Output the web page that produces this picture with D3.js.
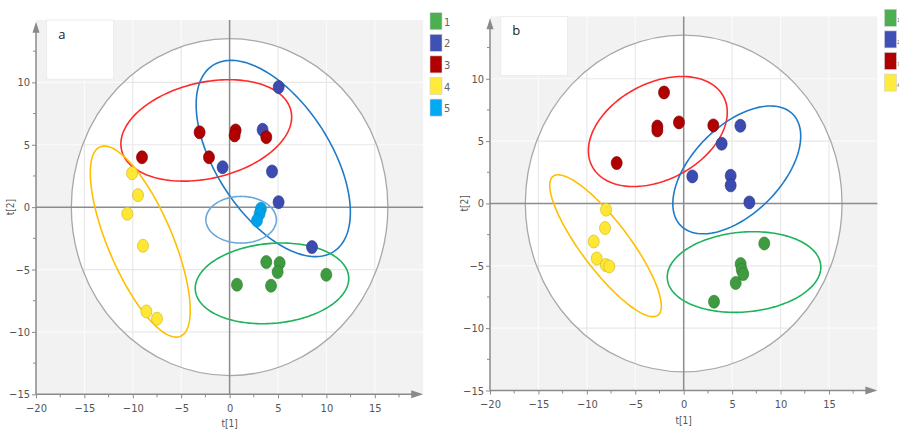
<!DOCTYPE html>
<html>
<head>
<meta charset="utf-8">
<script src="https://cdn.jsdelivr.net/npm/d3@7/dist/d3.min.js"></script>
<style>
  html, body { margin: 0; padding: 0; background: #fff; }
  svg { display: block; }
  text { font-family: "Liberation Sans Narrow", "DejaVu Sans Condensed", "Liberation Sans", Arial, sans-serif; fill: #555; }
</style>
</head>
<body>
<svg id="chart" width="899" height="432"></svg>
<script>
// ---------- DATA ----------
const groupNames = ["1", "2", "3", "4", "5"];
const xTicks = [-20, -15, -10, -5, 0, 5, 10, 15];
const yTicks = [-15, -10, -5, 0, 5, 10];
const hotellingT2 = [16.35, 13.5]; // semi-axes of the T2 ellipse (t[1], t[2])

// Panel a scores [t1, t2]
const a_group1 = [[0.76, -6.22], [3.79, -4.40], [5.17, -4.48], [4.96, -5.20], [4.28, -6.30], [9.99, -5.42]];
const a_group2 = [[5.07, 9.62], [3.41, 6.20], [-0.72, 3.20], [4.38, 2.86], [5.06, 0.40], [8.51, -3.20]];
const a_group3 = [[-3.10, 6.00], [0.62, 6.15], [0.52, 5.75], [3.79, 5.61], [-9.05, 4.00], [-2.13, 4.00]];
const a_group4 = [[-10.08, 2.72], [-9.46, 0.96], [-10.57, -0.53], [-8.95, -3.10], [-8.60, -8.36], [-7.50, -8.94]];
const a_group5 = [[3.24, -0.13], [3.10, -0.53], [2.83, -1.07]];

// Panel b scores [t1, t2]
const b_group1 = [[8.32, -3.21], [5.88, -4.86], [5.99, -5.32], [6.15, -5.66], [5.37, -6.38], [3.13, -7.88]];
const b_group2 = [[5.85, 6.23], [3.92, 4.79], [0.89, 2.17], [4.85, 2.22], [4.85, 1.45], [6.78, 0.08]];
const b_group3 = [[-2.03, 8.90], [-2.72, 6.17], [-2.72, 5.85], [-0.49, 6.50], [3.06, 6.26], [-6.92, 3.24]];
const b_group4 = [[-8.02, -0.50], [-8.12, -1.97], [-9.29, -3.05], [-8.98, -4.41], [-8.05, -4.94], [-7.68, -5.05]];

// Group confidence ellipses: group, centre (cx, cy), conjugate semi-diameters U (ux, uy) and V (vx, vy)
const a_ellipses = [
  { g: 3, cx: -2.41, cy: 6.15, ux: 8.75, uy: 1.57, vx: 1.12, vy: -3.75 },
  { g: 2, cx: 4.51, cy: 3.90, ux: 6.25, uy: -7.46, vx: -4.94, vy: -2.49 },
  { g: 5, cx: 1.19, cy: -1.01, ux: 3.64, uy: 0, vx: 0, vy: 1.87 },
  { g: 1, cx: 4.38, cy: -6.11, ux: 7.92, uy: 0.54, vx: 0.36, vy: -3.19 },
  { g: 4, cx: -9.23, cy: -2.76, ux: 4.15, uy: -7.59, vx: -3.07, vy: -1.01 }
];
const b_ellipses = [
  { g: 3, cx: -2.67, cy: 5.77, ux: 6.78, uy: 2.80, vx: 2.33, vy: -3.41 },
  { g: 2, cx: 5.48, cy: 2.69, ux: 5.77, uy: 4.48, vx: 3.21, vy: -2.49 },
  { g: 1, cx: 6.23, cy: -5.50, ux: 7.92, uy: 0.54, vx: 0.36, vy: -3.19 },
  { g: 4, cx: -8.07, cy: -3.39, ux: 5.41, uy: -5.57, vx: -1.98, vy: -1.16 }
];

// ---------- STYLE ----------
const pointFill   = { 1: "#3f9b3f", 2: "#3b4bb0", 3: "#b00000", 4: "#ffe733", 5: "#00a3ea" };
const pointStroke = { 1: "#2f7a30", 2: "#2b378a", 3: "#7e0000", 4: "#cbb820", 5: "#0a86c2" };
const legendFill  = { 1: "#4caf50", 2: "#3f51b5", 3: "#b00000", 4: "#ffeb3b", 5: "#03a9f4" };
const ellColor    = { 1: "#1db35a", 2: "#1f7bc8", 3: "#ff2a2a", 4: "#ffbf00", 5: "#6aa8dc" };

const svg = d3.select("#chart");
let clipId = 0;

function drawPanel(cfg) {
  const x = d3.scaleLinear().domain([-20, 20]).range([cfg.left, cfg.right]);
  const y = d3.scaleLinear().domain([-15, 15]).range([cfg.bottom, cfg.top]);
  const g = svg.append("g");

  // background
  g.append("rect").attr("x", x(-20)).attr("y", y(15))
    .attr("width", x(20) - x(-20)).attr("height", y(-15) - y(15)).attr("fill", "#f2f2f2");

  const gridX = xTicks.filter(v => v > -20 && v !== 0);
  const gridY = yTicks.filter(v => v > -15 && v !== 0);
  function grid(sel, color) {
    sel.selectAll(".gx").data(gridX).join("line")
      .attr("x1", d => x(d)).attr("x2", d => x(d)).attr("y1", y(15)).attr("y2", y(-15))
      .attr("stroke", color).attr("stroke-width", 1.2);
    sel.selectAll(".gy").data(gridY).join("line")
      .attr("y1", d => y(d)).attr("y2", d => y(d)).attr("x1", x(-20)).attr("x2", x(20))
      .attr("stroke", color).attr("stroke-width", 1.2);
  }
  grid(g.append("g"), "#fbfbfb");

  // Hotelling T2 ellipse
  const cid = "clip" + (clipId++);
  g.append("clipPath").attr("id", cid).append("ellipse")
    .attr("cx", x(0)).attr("cy", y(0))
    .attr("rx", x(hotellingT2[0]) - x(0)).attr("ry", y(0) - y(hotellingT2[1]));
  g.append("ellipse").attr("cx", x(0)).attr("cy", y(0))
    .attr("rx", x(hotellingT2[0]) - x(0)).attr("ry", y(0) - y(hotellingT2[1]))
    .attr("fill", "#fff");
  grid(g.append("g").attr("clip-path", `url(#${cid})`), "#e8e8e8");
  g.append("ellipse").attr("cx", x(0)).attr("cy", y(0))
    .attr("rx", x(hotellingT2[0]) - x(0)).attr("ry", y(0) - y(hotellingT2[1]))
    .attr("fill", "none").attr("stroke", "#a8a8a8").attr("stroke-width", 1.3);

  // label box
  g.append("rect").attr("x", x(-18.9)).attr("y", y(15))
    .attr("width", x(-12) - x(-18.9)).attr("height", y(10.25) - y(15))
    .attr("fill", "#fff").attr("stroke", "#ececec");
  g.append("text").attr("x", x(-17.7)).attr("y", y(13.5))
    .style("font-family", "'Open Sans', 'Liberation Sans', Arial, sans-serif")
    .style("font-size", "13px").style("fill", "#222").text(cfg.label);

  // zero lines
  g.append("line").attr("x1", x(0)).attr("x2", x(0)).attr("y1", y(15)).attr("y2", y(-15))
    .attr("stroke", "#8c8c8c").attr("stroke-width", 1.5);
  g.append("line").attr("x1", x(-20)).attr("x2", x(20)).attr("y1", y(0)).attr("y2", y(0))
    .attr("stroke", "#8c8c8c").attr("stroke-width", 1.5);

  // group ellipses
  const ts = d3.range(0, 2 * Math.PI, Math.PI / 90);
  const line = d3.line().curve(d3.curveLinearClosed);
  g.selectAll(".ell").data(cfg.ellipses).join("path")
    .attr("d", e => line(ts.map(t => [
      x(e.cx + e.ux * Math.cos(t) + e.vx * Math.sin(t)),
      y(e.cy + e.uy * Math.cos(t) + e.vy * Math.sin(t))
    ])))
    .attr("fill", "none").attr("stroke", e => ellColor[e.g]).attr("stroke-width", 1.6);

  // points
  cfg.groups.forEach((pts, i) => {
    const gi = i + 1;
    g.append("g").selectAll("ellipse").data(pts).join("ellipse")
      .attr("cx", d => x(d[0])).attr("cy", d => y(d[1]))
      .attr("rx", 5.5).attr("ry", 6.5)
      .attr("fill", pointFill[gi]).attr("stroke", pointStroke[gi]).attr("stroke-width", 0.8)
      .attr("stroke-opacity", 0.8);
  });

  // axes
  const axisColor = "#8a8a8a";
  const yAxis = d3.axisLeft(y).tickValues(yTicks).tickSize(4).tickFormat(d3.format("d"));
  const xAxis = d3.axisBottom(x).tickValues(xTicks).tickSize(4).tickFormat(d3.format("d"));
  const ya = g.append("g").attr("transform", `translate(${x(-20)},0)`).call(yAxis);
  const xa = g.append("g").attr("transform", `translate(0,${y(-15)})`).call(xAxis);
  [ya, xa].forEach(a => {
    a.select(".domain").remove();
    a.selectAll(".tick line").attr("stroke", axisColor);
    a.selectAll(".tick text").style("font-size", "11px").style("fill", "#555");
  });
  ya.selectAll(".tick text").attr("x", -6);
  xa.selectAll(".tick text").attr("y", 10);
  // minor ticks
  const minorX = d3.range(-17.5, 20, 5);
  const minorY = d3.range(-12.5, 15, 5);
  g.selectAll(".mx").data(minorX).join("line")
    .attr("x1", d => x(d)).attr("x2", d => x(d)).attr("y1", y(-15)).attr("y2", y(-15) + 3)
    .attr("stroke", axisColor);
  g.selectAll(".my").data(minorY).join("line")
    .attr("y1", d => y(d)).attr("y2", d => y(d)).attr("x1", x(-20)).attr("x2", x(-20) - 3)
    .attr("stroke", axisColor);

  // axis lines with arrows
  g.append("line").attr("x1", x(-20)).attr("x2", x(-20)).attr("y1", y(-15)).attr("y2", y(14.4))
    .attr("stroke", axisColor).attr("stroke-width", 1.5);
  g.append("line").attr("x1", x(-20)).attr("x2", x(19.4)).attr("y1", y(-15)).attr("y2", y(-15))
    .attr("stroke", axisColor).attr("stroke-width", 1.5);
  const tipY = [x(-20), y(14.85)];
  g.append("path").attr("d", `M${tipY[0]},${tipY[1]} l-3.5,11 l7,0 Z`).attr("fill", axisColor);
  const tipX = [x(20), y(-15)];
  g.append("path").attr("d", `M${tipX[0]},${tipX[1]} l-12,-4 l0,8 Z`).attr("fill", axisColor);

  // axis titles
  g.append("text").attr("x", x(0)).attr("y", y(-15) + 33).attr("text-anchor", "middle")
    .style("font-size", "10px").style("fill", "#555").text("t[1]");
  g.append("text").attr("transform", `translate(${x(-20) - 22},${y(0)}) rotate(-90)`)
    .attr("text-anchor", "middle").style("font-size", "10px").style("fill", "#555").text("t[2]");

  // legend
  const lg = svg.append("g");
  const items = groupNames.slice(0, cfg.groups.length);
  items.forEach((name, i) => {
    lg.append("rect").attr("x", cfg.legendX).attr("y", cfg.legendY + i * 21.6)
      .attr("width", 12).attr("height", 17).attr("fill", legendFill[i + 1])
      .attr("stroke", "#d0d0d0").attr("stroke-width", 0.6);
    lg.append("text").attr("x", cfg.legendX + cfg.labelDx).attr("y", cfg.legendY + i * 21.6 + 13)
      .style("font-size", cfg.labelSize).style("fill", "#666").text(name);
  });
}

drawPanel({
  label: "a", left: 36, right: 423.2, top: 20, bottom: 394.3,
  groups: [a_group1, a_group2, a_group3, a_group4, a_group5],
  ellipses: a_ellipses, legendX: 430, legendY: 12.7, labelDx: 14, labelSize: "11px"
});
drawPanel({
  label: "b", left: 490, right: 877.4, top: 16.4, bottom: 390.5,
  groups: [b_group1, b_group2, b_group3, b_group4],
  ellipses: b_ellipses, legendX: 884.5, legendY: 9.3, labelDx: 12.6, labelSize: "5px"
});
</script>
</body>
</html>
